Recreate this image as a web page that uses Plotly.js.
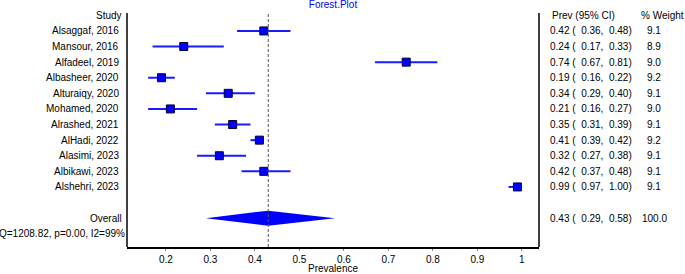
<!DOCTYPE html>
<html>
<head>
<meta charset="utf-8">
<script src="https://cdn.plot.ly/plotly-3.0.1.min.js"></script>
<style>html,body{margin:0;padding:0;background:#fff;}#chart{width:685px;height:274px;}</style>
</head>
<body>
<div id="chart"></div>
<script>
// ---- data ----
const studies = ["Alsaggaf, 2016","Mansour, 2016","Alfadeel, 2019","Albasheer, 2020","Alturaiqy, 2020",
  "Mohamed, 2020","Alrashed, 2021","AlHadi, 2022","Alasimi, 2023","Albikawi, 2023","Alshehri, 2023"];
const prev   = [0.42,0.24,0.74,0.19,0.34,0.21,0.35,0.41,0.32,0.42,0.99];
const ciLow  = [0.36,0.17,0.67,0.16,0.29,0.16,0.31,0.39,0.27,0.37,0.97];
const ciHigh = [0.48,0.33,0.81,0.22,0.40,0.27,0.39,0.42,0.38,0.48,1.00];
const weight = [9.1,8.9,9.0,9.2,9.1,9.0,9.1,9.2,9.1,9.1,9.1];
const overallEst = 0.43, overallLow = 0.29, overallHigh = 0.58, overallWeight = 100.0;
const heteroText = "Q=1208.82, p=0.00, I2=99%";
const xTicks = [0.2,0.3,0.4,0.5,0.6,0.7,0.8,0.9,1];
const xTickText = ["0.2","0.3","0.4","0.5","0.6","0.7","0.8","0.9","1"];

// ---- rows ----
const rows = studies.map((s,i)=>i+1);
const overallRow = studies.length + 2;
const heteroRow = overallRow + 1;
const FONT = "Liberation Sans, Arial, sans-serif";
const NB = "\u00a0";
const fmt = v => v.toFixed(2);

const traces = [];
traces.push({
  type:'scatter', mode:'markers', x:prev, y:rows,
  marker:{symbol:'square', size:8, color:'#0000ff', line:{color:'#000033', width:1}},
  error_x:{type:'data', symmetric:false,
    array:prev.map((p,i)=>ciHigh[i]-p), arrayminus:prev.map((p,i)=>p-ciLow[i]),
    color:'#1a1aff', thickness:2, width:0},
  hoverinfo:'skip', showlegend:false, cliponaxis:false
});
const dh = 0.48;
traces.push({
  type:'scatter', mode:'lines', fill:'toself', fillcolor:'#0000ff',
  x:[overallLow, overallEst, overallHigh, overallEst, overallLow],
  y:[overallRow, overallRow-dh, overallRow, overallRow+dh, overallRow],
  line:{color:'#0000ff', width:0}, hoverinfo:'skip', showlegend:false
});

const ann = [];
const A = o => Object.assign({xref:'paper', yref:'y', showarrow:false, borderpad:0, borderwidth:0}, o);
ann.push(A({text:"Study", x:0, xshift:-5, y:0, xanchor:'right'}));
studies.forEach((s,i)=>ann.push(A({text:s, x:0, xshift:-8, y:rows[i], xanchor:'right'})));
ann.push(A({text:"Overall", x:0, xshift:-5, y:overallRow, xanchor:'right'}));
ann.push(A({text:heteroText, x:0, xshift:-2, y:heteroRow, xanchor:'right'}));
const ciStr = (e,l,h)=> fmt(e)+NB+"("+NB+NB+fmt(l)+","+NB+NB+fmt(h)+")";
ann.push(A({text:"Prev (95% CI)", x:1, xshift:13, y:0, xanchor:'left'}));
ann.push(A({text:"% Weight", x:1, xshift:102, y:0, xanchor:'left'}));
studies.forEach((s,i)=>{
  ann.push(A({text:ciStr(prev[i],ciLow[i],ciHigh[i]), x:1, xshift:11, y:rows[i], xanchor:'left'}));
  ann.push(A({text:weight[i].toFixed(1), x:1, xshift:115, y:rows[i], xanchor:'center'}));
});
ann.push(A({text:ciStr(overallEst,overallLow,overallHigh), x:1, xshift:11, y:overallRow, xanchor:'left'}));
ann.push(A({text:overallWeight.toFixed(1), x:1, xshift:115, y:overallRow, xanchor:'center'}));

const layout = {
  width:685, height:274,
  margin:{l:127, r:146, t:13, b:27},
  paper_bgcolor:'#fff', plot_bgcolor:'#fff',
  font:{family:FONT, size:10, color:'#000'},
  title:{text:"Forest.Plot", font:{family:FONT, size:10, color:'#0000ff'}, x:0.5, xref:'paper', xanchor:'center', y:0.995, yanchor:'top'},
  xaxis:{range:[0.1125,1.0385], tickvals:xTicks, ticktext:xTickText, ticks:'outside', ticklen:2, tickcolor:'#888',
    ticklabelstandoff:0,
    showline:true, linecolor:'#000', linewidth:1.5, showgrid:false, zeroline:false,
    tickfont:{family:FONT, size:10, color:'#000'},
    title:{text:"Prevalence", font:{family:FONT, size:10, color:'#000'}, standoff:2}},
  yaxis:{range:[14.85,-0.15], showticklabels:false, ticks:'', showgrid:false, zeroline:false, showline:false},
  annotations:ann,
  shapes:[
    {type:'line', xref:'paper', yref:'paper', x0:0, x1:0, y0:0, y1:1, line:{color:'#000', width:1.5}},
    {type:'line', xref:'paper', yref:'paper', x0:1, x1:1, y0:0, y1:1, line:{color:'#000', width:1.5}},
    {type:'line', xref:'x', yref:'paper', x0:overallEst, x1:overallEst, y0:0, y1:1, line:{color:'#555', width:1, dash:'3px,2px'}}
  ],
  showlegend:false
};
Plotly.newPlot('chart', traces, layout, {staticPlot:true, displayModeBar:false});
</script>
</body>
</html>
